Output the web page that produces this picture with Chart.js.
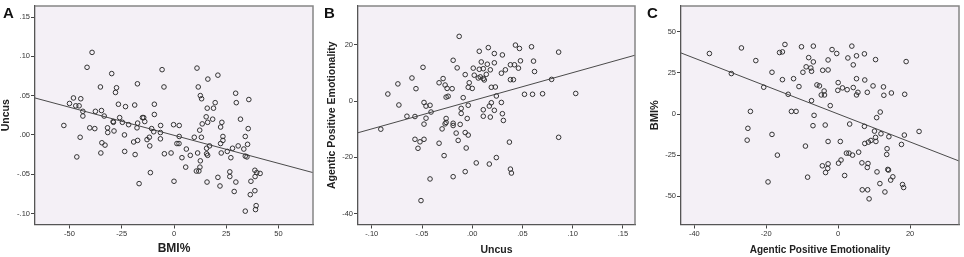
<!DOCTYPE html>
<html><head><meta charset="utf-8">
<script src="https://cdn.jsdelivr.net/npm/chart.js@4.4.0/dist/chart.umd.min.js"></script>
<style>
body{margin:0;background:#fff;width:964px;height:257px;overflow:hidden;position:relative;font-family:"Liberation Sans",Arial,sans-serif}
.p{position:absolute;top:0;height:257px}
.lbl{position:absolute;font-weight:bold;font-size:15px;line-height:15px;color:#111;top:5px}
</style></head><body>
<div class="p" style="left:0;width:320px"><canvas id="cA" width="320" height="257"></canvas></div>
<div class="p" style="left:320px;width:320px"><canvas id="cB" width="320" height="257"></canvas></div>
<div class="p" style="left:640px;width:324px"><canvas id="cC" width="324" height="257"></canvas></div>
<div class="lbl" style="left:3px">A</div>
<div class="lbl" style="left:324px">B</div>
<div class="lbl" style="left:647px">C</div>
<script>
// Panel A: BMI% (x) vs Uncus (y)
const aBMI = [-39.2,-41.6,-29.8,-5.7,11,21,16.2,-35.2,-27.5,-28,
-17.5,-4.8,11.6,12.6,13.2,29.5,29.8,35.8,19.7,15.9,
18.9,-48.1,-44.6,-50,-47,-45.4,-43.6,-43.6,-37.6,-34.7,
-33.4,-26.6,-23.2,-18.8,-9.4,-9.4,-52.7,-40.3,-37.9,-44.9,
-46.5,-31.8,-31.7,-29.1,-29.0,-28.7,-26,-24.7,-21.7,-23.7,
-34.5,-33,-35,-23.6,-19.3,-17.4,-18.6,-16.7,-17.7,-17.4,
-15.1,-14.5,-14,-12.9,-11.8,-11.6,-10.7,-9.7,-11.3,-6.4,
-6.5,-6.5,-4.6,-0.2,2.5,2.5,1.4,2.4,-1.4,0,
3.8,5.6,5.9,7.8,9.7,10.7,11.3,11.9,12.4,12.6,
12.3,13.1,13.5,15.4,16.1,15.6,15.6,16.1,17,18.5,
15.8,21,22,22.3,22.9,23.4,23.4,22.3,22.6,25.5,
27.2,28,26.7,26.7,28.8,29.6,30.7,31.8,33.4,34.1,
35.2,35.5,34.1,34.9,38.7,39.6,41.2,38.8,36.8,36.5,
38.7,39.3,39,34.1];
const aUncus = [.105,.086,.078,.083,.085,.076,.071,.061,.060,.054,
.065,.061,.061,.050,.046,.053,.041,.045,.041,.034,
.034,.047,.046,.040,.037,.037,.030,.024,.030,.031,
.024,.039,.036,.038,.039,.026,.012,.009,.008,-.003,
-.028,.009,.003,.017,.016,.005,.022,.016,.013,0,
-.010,-.013,-.023,-.021,-.009,-.007,-.025,-.062,.009,.015,
.022,.022,.017,-.006,-.003,-.014,.008,.004,-.048,.012,
.003,-.005,-.024,.013,.012,-.002,-.011,-.011,-.023,-.059,
-.029,-.041,-.018,-.026,-.003,-.046,-.023,-.046,-.041,-.033,
.006,-.003,.014,.023,.016,-.017,-.024,-.026,-.014,.020,
-.060,-.054,-.065,.010,.016,-.002,-.007,-.011,-.023,-.021,
-.029,-.017,-.047,-.053,-.072,-.060,-.014,.020,-.018,-.002,
-.012,.008,-.027,-.028,-.045,-.048,-.049,-.053,-.059,-.076,
-.071,-.090,-.095,-.097];
const aFit = [-0.0005, -0.000714];          // intercept, slope
const aXRange = [-66.5, 66.5], aYRange = [-0.114, 0.164];
const aXTicks = [-50,-25,0,25,50];
const aYTicks = [-0.10,-0.05,0,0.05,0.10,0.15];

// Panel B: Uncus (x) vs Agentic Positive Emotionality (y)
const bUncus = [-.013,.043,.047,.059,.086,.016,.007,.022,.030,.048,
.061,.062,.046,.038,.042,-.019,-.015,.009,.015,.022,
.011,.018,.001,.007,.014,.029,.033,-.007,.002,.006,
.008,.012,.038,.041,.079,-.049,-.060,-.074,-.029,-.033,
-.027,-.025,-.020,-.056,-.024,-.026,-.003,-.004,.000,-.009,
.019,.023,.024,.019,.029,.017,.052,.060,.070,.103,
-.084,-.073,-.048,-.046,-.042,-.041,-.046,-.048,-.065,-.057,
-.091,-.011,-.011,-.004,-.005,-.026,-.026,-.027,-.030,-.019,
-.019,-.012,.011,.011,.022,.018,.030,.031,-.016,-.007,
-.004,-.014,-.057,-.052,-.048,-.054,-.033,-.006,-.028,.037,
.086,.024,.004,.017,-.007,.038,.039,-.019,-.042,-.051,
.011];
const bAPE = [23,19.9,18.7,19.3,17.4,19,17.7,16.9,16.4,14.3,
14.2,10.5,11.7,12.9,12.9,14.5,11.8,13.9,13.1,13.6,
11.5,11.1,11.7,11.3,9.5,9.9,11.1,9.4,9.2,8.2,
8.6,7.5,7.6,7.6,7.7,12,8.2,6.1,8,6.5,
5.7,4.5,4.4,4.4,1.7,1.4,6.5,4.9,4.5,1.2,
4.9,5,1.8,-0.6,-0.5,-1.8,2.4,2.4,2.6,2.7,
2.5,-1.4,-0.5,-1.8,-1.5,-3.9,-6.1,-8.2,-5.4,-5.5,
-10,-2.6,-4.4,-1.5,-6.2,-6.2,-7.6,-8.1,-9.9,-7.9,
-8.7,-8.3,-3.1,-5.4,-3.3,-5.7,-4.5,-6.9,-11.4,-11.2,
-12.1,-14,-13.6,-14.5,-13.6,-16.8,-15,-16.7,-19.4,-14.6,
-12.9,-20.1,-22,-22.4,-25.1,-24.2,-25.6,-26.9,-27.7,-35.4,
8];
const bFit = [0.1, 100];
const bXRange = [-0.1137, 0.162], bYRange = [-43.9, 33.8];
const bXTicks = [-0.10,-0.05,0,0.05,0.10,0.15];
const bYTicks = [-40,-20,0,20];

// Panel C: Agentic Positive Emotionality (x) vs BMI% (y)
const cAPE = [-35.8,-26.9,-29.7,-22.9,-20.7,-18.4,-14.8,-16.3,-15.5,-15.5,
-10.2,-6.9,-8.2,-6.9,-8.9,-7.6,-7.4,-9.8,-4.3,-2.8,
-2.8,-1.7,-0.4,3.8,2.7,4.2,5.1,7.3,10.4,18.9,
-12.4,-10.9,-13.9,-5.9,-5.2,-3.9,-4.7,-3.8,-7.4,-2.2,
0,-0.1,1.2,2.5,4.2,5.1,5.5,5.1,7.4,8.1,
9.7,12.6,12.7,14.8,18.5,-13,-11.7,-24.4,-25.1,-25.3,
-18.4,-6.7,-7,-3.6,3.2,7.3,10.7,11.7,10.1,11.9,
14.1,18.4,22.5,10.4,9.1,8.4,10.5,7.4,0.6,-2.8,
17.6,13.6,13.5,5.7,2.3,3,4,-9.1,-16.9,6.6,
8.3,8.1,0.8,0.1,-2.8,-4.4,-2.9,-3.5,10.8,13.8,
14,15.2,14.6,1.8,-8.5,-19.5,11.6,17.9,18.2,13,
6.7,8.2,8.6];
const cBMI = [36.8,40.2,24.6,32.5,16.3,25.4,42.3,37.4,37.8,20.9,
40.9,41.3,34.3,31.7,28.7,28,26,25.4,26.6,26.8,
32.9,39.2,36.8,41.3,34.1,29.9,35.4,36.6,33.1,31.9,
21.5,16.7,12,17.7,17.1,14,11.6,11.6,8.1,5.1,
19.1,14.4,15.9,14.8,16.1,21.5,13.2,11.6,20.7,13.2,
17.1,16.5,11.4,12.8,12,1.6,1.6,1.6,-8.7,-15.9,
-12.4,-0.8,-7.1,-6.7,-6.1,-7.5,-2.2,1.2,-10.4,-12,
-13.8,-12.8,-10.6,-14.2,-16.1,-17.1,-16.7,-17.9,-16.7,-16.7,
-18.5,-21.1,-24.6,-23.2,-23.8,-23.8,-25,-19.5,-25,-29.7,
-30.1,-32.5,-28,-29.9,-30.3,-31.5,-33.1,-35.6,-35.2,-33.7,
-34.1,-38.2,-40.2,-37.4,-38.4,-41.3,-42.3,-42.9,-44.7,-47.4,
-46.1,-46.1,-51.6];
const cFit = [0.0, -0.85];
const cXRange = [-43.7, 33.6], cYRange = [-67.2, 65.7];
const cXTicks = [-40,-20,0,20];
const cYTicks = [-50,-25,0,25,50];

function fmtDec(v){ return v.toFixed(2).replace('0.', '.'); }
function fmtInt(v){ return String(Math.round(v)); }

const framePlugin = {
  id:'frame',
  beforeDraw(chart){
    const {ctx, chartArea:a} = chart;
    ctx.save();
    ctx.fillStyle = '#f4f0f6';
    ctx.fillRect(a.left, a.top, a.right-a.left, a.bottom-a.top);
    ctx.restore();
  },
  afterDraw(chart){
    const {ctx, chartArea:a} = chart;
    ctx.save();
    ctx.strokeStyle = '#858585';
    ctx.lineWidth = 1.5;
    ctx.beginPath();
    ctx.moveTo(a.left, a.top);
    ctx.lineTo(a.right, a.top);
    ctx.lineTo(a.right, a.bottom);
    ctx.stroke();
    ctx.restore();
  }
};

function makeChart(c){
  const pts = c.xs.map((x,i)=>({x:x, y:c.ys[i]}));
  const fitLine = c.xr.map(x=>({x:x, y:c.fit[0] + c.fit[1]*x}));
  const tickFont = {family:'"Liberation Sans", Arial, sans-serif', size:7.5};
  const titleFont = (s)=>({family:'"Liberation Sans", Arial, sans-serif', size:s, weight:'bold'});
  new Chart(document.getElementById(c.id), {
    type:'scatter',
    data:{datasets:[
      {data:pts, pointRadius:2.3, pointBorderWidth:1, pointBorderColor:'#333',
       pointBackgroundColor:'rgba(0,0,0,0)', showLine:false},
      {type:'line', data:fitLine, borderColor:'#4a4a4a', borderWidth:1, pointRadius:0, fill:false}
    ]},
    options:{
      responsive:false, animation:false, devicePixelRatio:1,
      layout:{padding:{top:6, right:c.right, left:0, bottom:0}},
      plugins:{legend:{display:false}, tooltip:{enabled:false}},
      scales:{
        x:{type:'linear', min:c.xr[0], max:c.xr[1],
           afterBuildTicks:s=>{ s.ticks = c.xt.map(v=>({value:v})); },
           afterFit:s=>{ s.height = 32.5; },
           ticks:{callback:c.xdec?fmtDec:fmtInt, font:tickFont, color:'#333', padding:1, maxRotation:0, autoSkip:false},
           grid:{drawOnChartArea:false, drawTicks:true, tickLength:4, color:'#444', lineWidth:1},
           border:{display:true, color:'#555', width:1.3},
           title:{display:true, text:c.xTitle, font:titleFont(c.xfs), color:'#222', padding:{top:0,bottom:1}}},
        y:{type:'linear', min:c.yr[0], max:c.yr[1],
           afterBuildTicks:s=>{ s.ticks = c.yt.map(v=>({value:v})); },
           afterFit:s=>{ s.width = c.yw; },
           ticks:{callback:c.ydec?fmtDec:fmtInt, font:tickFont, color:'#333', padding:1, autoSkip:false},
           grid:{drawOnChartArea:false, drawTicks:true, tickLength:4, color:'#444', lineWidth:1},
           border:{display:true, color:'#555', width:1.3},
           title:{display:true, text:c.yTitle, font:titleFont(c.yfs), color:'#222', padding:{top:c.ytp,bottom:0}}}
      }
    },
    plugins:[framePlugin]
  });
}

makeChart({id:'cA', xs:aBMI, ys:aUncus, fit:aFit, xr:aXRange, yr:aYRange, xt:aXTicks, yt:aYTicks,
  xdec:false, ydec:true, xTitle:'BMI%', yTitle:'Uncus', xfs:12, yfs:10.5, ytp:0, yw:35, right:7});
makeChart({id:'cB', xs:bUncus, ys:bAPE, fit:bFit, xr:bXRange, yr:bYRange, xt:bXTicks, yt:bYTicks,
  xdec:true, ydec:false, xTitle:'Uncus', yTitle:'Agentic Positive Emotionality', xfs:10.5, yfs:10.5, ytp:6, yw:38, right:1});
makeChart({id:'cC', xs:cAPE, ys:cBMI, fit:cFit, xr:cXRange, yr:cYRange, xt:cXTicks, yt:cYTicks,
  xdec:false, ydec:false, xTitle:'Agentic Positive Emotionality', yTitle:'BMI%', xfs:10, yfs:11, ytp:8, yw:41, right:2});
</script>
</body></html>
